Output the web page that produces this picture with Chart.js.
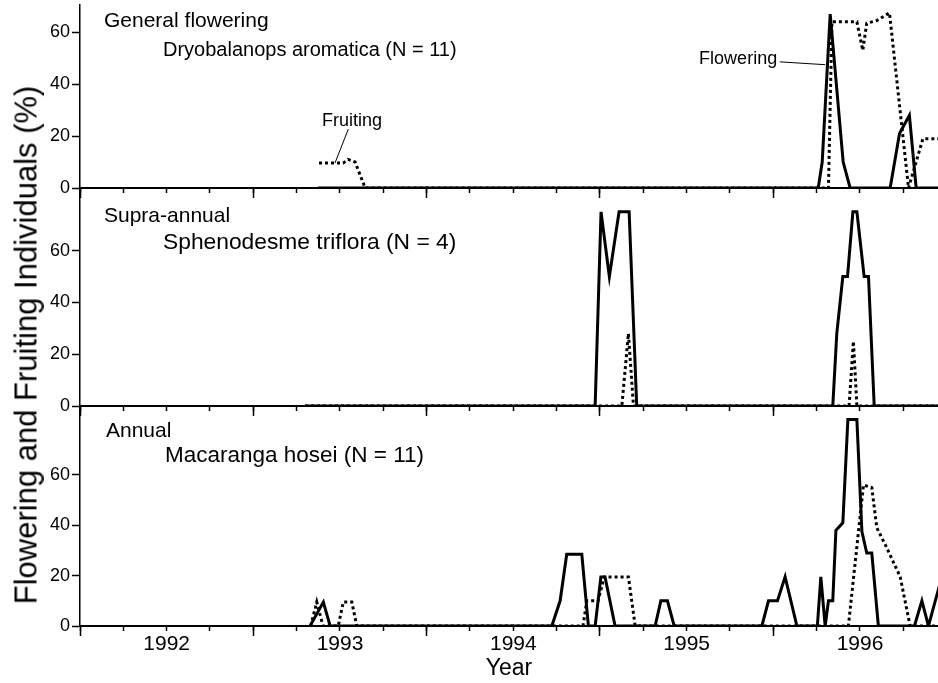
<!DOCTYPE html>
<html>
<head>
<meta charset="utf-8">
<title>Flowering and fruiting phenology</title>
<script src="https://cdn.jsdelivr.net/npm/chart.js@4.4.1/dist/chart.umd.min.js"></script>
<style>
  html, body { margin: 0; padding: 0; background: #fff; }
  #page { position: relative; width: 938px; height: 683px; overflow: hidden;
          font-family: "Liberation Sans", Arial, Helvetica, sans-serif; color: #000; }
  #page canvas { position: absolute; left: 0; }
  .panel-label { position: absolute; font-size: 21px; line-height: 1; white-space: nowrap; }
  #ytitle { position: absolute; left: 26px; top: 345px; font-size: 31px; line-height: 1;
            white-space: nowrap; transform: translate(-50%, -50%) rotate(-90deg); }
</style>
</head>
<body>
<div id="page">
  <canvas id="panelTop" width="938" height="200" style="top:0px"></canvas>
  <canvas id="panelMid" width="938" height="242" style="top:176px"></canvas>
  <canvas id="panelBot" width="938" height="289" style="top:394px"></canvas>

  <div class="panel-label" style="left:104px; top:9px">General flowering</div>
  <div class="panel-label" style="left:163px; top:39px; font-size:20px">Dryobalanops aromatica (N = 11)</div>
  <div class="panel-label" style="left:104px; top:204px">Supra-annual</div>
  <div class="panel-label" style="left:163px; top:230px; font-size:22.8px">Sphenodesme triflora (N = 4)</div>
  <div class="panel-label" style="left:106px; top:419px">Annual</div>
  <div class="panel-label" style="left:165px; top:444px; font-size:22.5px">Macaranga hosei (N = 11)</div>

  <div id="ytitle">Flowering and Fruiting Individuals (%)</div>
</div>

<script>
// time axis (decimal years) and tick labels
const X_MIN = 1992;
const X_MAX = 1996.95;
const yearLabels = [1992, 1993, 1994, 1995, 1996];
const pctTicks = [0, 20, 40, 60];

// Dryobalanops aromatica
const dryoFlowerYear = [1993.373, 1996.259, 1996.282, 1996.328, 1996.403, 1996.443, 1996.674, 1996.728, 1996.785, 1996.824, 1996.95];
const dryoFlowerPct  = [0, 0, 10, 67, 10, 0, 0, 21, 28, 0, 0];
const dryoFruitYear  = [1993.379, 1993.518, 1993.546, 1993.587, 1993.645, 1996.318, 1996.338, 1996.482, 1996.516, 1996.539, 1996.597, 1996.670, 1996.780, 1996.863, 1996.95];
const dryoFruitPct   = [9.6, 9.6, 11, 10, 0, 0, 64, 64, 53, 63.5, 64.5, 67.5, 0, 19, 19];

// Sphenodesme triflora
const sphenoFlowerYear = [1993.298, 1994.972, 1995.006, 1995.054, 1995.110, 1995.168, 1995.212, 1996.343, 1996.366, 1996.401, 1996.428, 1996.459, 1996.482, 1996.524, 1996.549, 1996.582, 1996.95];
const sphenoFlowerPct  = [0, 0, 75, 50, 75, 75, 0, 0, 28, 50, 50, 75, 75, 50, 50, 0, 0];
const sphenoFruitYear  = [1993.298, 1995.126, 1995.164, 1995.193, 1996.437, 1996.462, 1996.482, 1996.95];
const sphenoFruitPct   = [0, 0, 28, 0, 0, 25, 0, 0];

// Macaranga hosei
const macaFlowerYear = [1993.327, 1993.404, 1993.443, 1994.722, 1994.770, 1994.808, 1994.895, 1994.933, 1994.972, 1995.005,
                        1995.029, 1995.087, 1995.318, 1995.351, 1995.389, 1995.428, 1995.934, 1995.972, 1996.024, 1996.068,
                        1996.136, 1996.254, 1996.274, 1996.299, 1996.318, 1996.343, 1996.361, 1996.401, 1996.430, 1996.482,
                        1996.511, 1996.539, 1996.568, 1996.606, 1996.814, 1996.857, 1996.895, 1996.962];
const macaFlowerPct  = [0, 9.5, 0, 0, 10, 28.5, 28.5, 0, 0, 19.5,
                        19.5, 0, 0, 10, 10, 0, 0, 10, 10, 19.5,
                        0, 0, 19.5, 0, 10, 10, 38, 41, 82, 82,
                        37.5, 29, 29, 0, 0, 10, 0, 17];
const macaFruitYear  = [1993.331, 1993.366, 1993.402, 1993.490, 1993.519, 1993.568, 1993.597, 1994.902, 1994.924, 1994.989,
                        1995.024, 1995.164, 1995.203, 1996.433, 1996.520, 1996.568, 1996.597, 1996.655, 1996.732, 1996.789, 1996.95];
const macaFruitPct   = [0, 9.5, 0, 0, 9.5, 9.5, 0, 0, 10, 10,
                        19.5, 19.5, 0, 0, 56, 55, 39, 31, 19.5, 0, 0];

const FONT = '"Liberation Sans", Arial, Helvetica, sans-serif';
Chart.defaults.font.family = FONT;
Chart.defaults.color = '#000';

const quarterTicks = yearLabels.flatMap(y => [y, y + 0.25, y + 0.5, y + 0.75]);
const isMidYear = v => Math.abs((v % 1) - 0.5) < 1e-6;

function toPoints(years, pct) {
    return years.map((t, i) => ({ x: t, y: pct[i] }));
}

// text + leader line, anchored in data units
const leaderLines = {
    id: 'leaderLines',
    afterDatasetsDraw(chart, args, opts) {
        const { ctx, scales: { x, y } } = chart;
        ctx.save();
        ctx.fillStyle = '#000';
        ctx.strokeStyle = '#000';
        ctx.lineWidth = 1;
        ctx.font = '18px ' + FONT;
        ctx.textBaseline = 'alphabetic';
        (opts.items || []).forEach(item => {
            ctx.textAlign = item.align;
            ctx.fillText(item.text, x.getPixelForValue(item.at[0]), y.getPixelForValue(item.at[1]));
            ctx.beginPath();
            ctx.moveTo(x.getPixelForValue(item.from[0]), y.getPixelForValue(item.from[1]));
            ctx.lineTo(x.getPixelForValue(item.to[0]), y.getPixelForValue(item.to[1]));
            ctx.stroke();
        });
        ctx.restore();
    }
};

function noPadding(scale) {
    scale.paddingTop = 0;
    scale.paddingBottom = 0;
    scale.paddingLeft = 0;
    scale.paddingRight = 0;
}

function makePanel(canvasId, cfg) {
    return new Chart(document.getElementById(canvasId), {
        type: 'line',
        data: {
            datasets: [{
                label: 'Flowering',
                data: toPoints(cfg.flowerYear, cfg.flowerPct),
                borderColor: '#000',
                borderWidth: 3,
                pointRadius: 0,
                tension: 0,
                xAxisID: 'x',
                yAxisID: 'y'
            }, {
                label: 'Fruiting',
                data: toPoints(cfg.fruitYear, cfg.fruitPct),
                borderColor: '#000',
                borderWidth: 3,
                borderDash: [3, 3],
                pointRadius: 0,
                tension: 0,
                xAxisID: 'x',
                yAxisID: 'y'
            }]
        },
        options: {
            responsive: false,
            animation: false,
            events: [],
            layout: { padding: { top: cfg.padTop, left: 0, right: 0, bottom: 0 } },
            plugins: {
                legend: { display: false },
                tooltip: { enabled: false },
                leaderLines: { items: cfg.callouts || [] }
            },
            scales: {
                x: {
                    type: 'linear',
                    position: 'bottom',
                    min: X_MIN,
                    max: X_MAX,
                    afterBuildTicks: s => { s.ticks = quarterTicks.map(v => ({ value: v })); },
                    afterFit: s => { s.height = cfg.axisHeight; noPadding(s); },
                    grid: { drawOnChartArea: false, drawTicks: true, tickLength: 5, tickWidth: 1.5, tickColor: '#000' },
                    border: { display: true, color: '#000', width: 2 },
                    ticks: {
                        display: !!cfg.showYears,
                        autoSkip: false,
                        maxRotation: 0,
                        padding: 1,
                        font: { size: 21 },
                        callback: v => isMidYear(v) ? String(Math.floor(v)) : ''
                    },
                    title: {
                        display: !!cfg.showYears,
                        text: 'Year',
                        font: { size: 23 },
                        padding: { top: 0, bottom: 1 }
                    }
                },
                xYear: {
                    type: 'linear',
                    position: { y: 0 },
                    min: X_MIN,
                    max: X_MAX,
                    afterBuildTicks: s => { s.ticks = yearLabels.map(v => ({ value: v })); },
                    afterFit: noPadding,
                    grid: { drawOnChartArea: false, drawTicks: true, tickLength: 10, tickWidth: 1.5, tickColor: '#000' },
                    border: { display: false },
                    ticks: { display: false }
                },
                y: {
                    min: 0,
                    max: cfg.yMax,
                    afterBuildTicks: s => { s.ticks = pctTicks.map(v => ({ value: v })); },
                    afterFit: s => { s.width = 80; noPadding(s); },
                    grid: { drawOnChartArea: false, drawTicks: true, tickLength: 8, tickWidth: 1.5, tickColor: '#000' },
                    border: { color: '#000', width: 1.5 },
                    ticks: { padding: 2, font: { size: 18 } }
                }
            }
        },
        plugins: [leaderLines]
    });
}

makePanel('panelTop', {
    flowerYear: dryoFlowerYear, flowerPct: dryoFlowerPct,
    fruitYear: dryoFruitYear, fruitPct: dryoFruitPct,
    yMax: 70.5, padTop: 5, axisHeight: 12,
    callouts: [
        { text: 'Flowering', align: 'right', at: [1996.022, 47.9], from: [1996.037, 48.6], to: [1996.299, 47.5] },
        { text: 'Fruiting', align: 'left', at: [1993.396, 23.7], from: [1993.548, 22.7], to: [1993.471, 9.6] }
    ]
});

makePanel('panelMid', {
    flowerYear: sphenoFlowerYear, flowerPct: sphenoFlowerPct,
    fruitYear: sphenoFruitYear, fruitPct: sphenoFruitPct,
    yMax: 84.2, padTop: 12, axisHeight: 12
});

makePanel('panelBot', {
    flowerYear: macaFlowerYear, flowerPct: macaFlowerPct,
    fruitYear: macaFruitYear, fruitPct: macaFruitPct,
    yMax: 87.4, padTop: 12, axisHeight: 57, showYears: true
});
</script>
</body>
</html>
